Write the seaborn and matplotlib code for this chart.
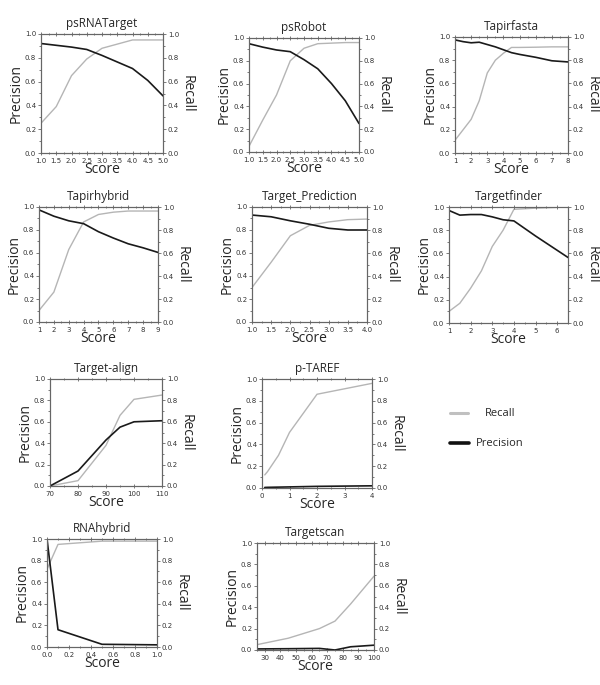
import numpy as np
import pandas as pd
import matplotlib
matplotlib.use("Agg")
import matplotlib.pyplot as plt
from matplotlib import font_manager
from matplotlib.lines import Line2D
from matplotlib.ticker import MultipleLocator, AutoMinorLocator
import seaborn as sns

sns.set_style("ticks")
plt.rcParams['font.family'] = ['Open Sans', 'DejaVu Sans']

# ---- data ----
titles = ["psRNATarget", "psRobot", "Tapirfasta",
          "Tapirhybrid", "Target_Prediction", "Targetfinder",
          "Target-align", "p-TAREF", "RNAhybrid", "Targetscan"]

psrnatarget_x = [1.0, 1.5, 2.0, 2.5, 3.0, 3.5, 4.0, 4.5, 5.0]
psrnatarget_prec = [0.92, 0.905, 0.89, 0.87, 0.82, 0.765, 0.71, 0.61, 0.48]
psrnatarget_rec = [0.25, 0.39, 0.65, 0.79, 0.88, 0.915, 0.95, 0.95, 0.95]

psrobot_x = [1.0, 1.5, 2.0, 2.5, 3.0, 3.5, 4.0, 4.5, 5.0]
psrobot_prec = [0.95, 0.92, 0.895, 0.88, 0.81, 0.73, 0.60, 0.45, 0.25]
psrobot_rec = [0.05, 0.28, 0.50, 0.80, 0.91, 0.95, 0.955, 0.96, 0.96]

tapirfasta_x = [1, 1.5, 2, 2.5, 3, 3.5, 4, 4.5, 5, 6, 7, 8]
tapirfasta_prec = [0.975, 0.96, 0.95, 0.955, 0.935, 0.915, 0.89, 0.865, 0.85, 0.825, 0.795, 0.785]
tapirfasta_rec = [0.11, 0.20, 0.29, 0.45, 0.69, 0.80, 0.86, 0.91, 0.91, 0.912, 0.915, 0.915]

tapirhybrid_x = [1, 2, 3, 4, 5, 6, 7, 8, 9]
tapirhybrid_prec = [0.975, 0.92, 0.88, 0.855, 0.785, 0.73, 0.68, 0.645, 0.605]
tapirhybrid_rec = [0.10, 0.26, 0.63, 0.87, 0.935, 0.955, 0.965, 0.965, 0.965]

targetpred_x = [1.0, 1.5, 2.0, 2.5, 3.0, 3.5, 4.0]
targetpred_prec = [0.93, 0.915, 0.88, 0.85, 0.815, 0.80, 0.80]
targetpred_rec = [0.30, 0.52, 0.75, 0.84, 0.87, 0.89, 0.895]

targetfinder_x = [1, 1.5, 2, 2.5, 3, 3.5, 4, 5, 6.5]
targetfinder_prec = [0.97, 0.93, 0.935, 0.935, 0.915, 0.89, 0.88, 0.75, 0.565]
targetfinder_rec = [0.10, 0.17, 0.30, 0.45, 0.66, 0.80, 0.98, 0.99, 1.0]

targetalign_x = [70, 80, 90, 95, 100, 110]
targetalign_prec = [0.0, 0.14, 0.43, 0.55, 0.60, 0.61]
targetalign_rec = [0.0, 0.05, 0.38, 0.66, 0.81, 0.85]

ptaref_x = [0.1, 0.2, 0.6, 1.0, 2.0, 4.0]
ptaref_prec = [0.005, 0.006, 0.008, 0.01, 0.015, 0.02]
ptaref_rec = [0.12, 0.15, 0.30, 0.51, 0.86, 0.96]

rnahybrid_x = [0.0, 0.1, 0.5, 1.0]
rnahybrid_prec = [1.0, 0.16, 0.025, 0.02]
rnahybrid_rec = [0.72, 0.95, 0.98, 0.98]

targetscan_x = [25, 45, 65, 75, 85, 100]
targetscan_prec = [0.01, 0.012, 0.015, 0.0, 0.03, 0.045]
targetscan_rec = [0.05, 0.11, 0.20, 0.27, 0.43, 0.69]

xs = [psrnatarget_x, psrobot_x, tapirfasta_x, tapirhybrid_x, targetpred_x,
      targetfinder_x, targetalign_x, ptaref_x, rnahybrid_x, targetscan_x]
precs = [psrnatarget_prec, psrobot_prec, tapirfasta_prec, tapirhybrid_prec, targetpred_prec,
         targetfinder_prec, targetalign_prec, ptaref_prec, rnahybrid_prec, targetscan_prec]
recs = [psrnatarget_rec, psrobot_rec, tapirfasta_rec, tapirhybrid_rec, targetpred_rec,
        targetfinder_rec, targetalign_rec, ptaref_rec, rnahybrid_rec, targetscan_rec]

xlims = [(1, 5), (1, 5), (1, 8), (1, 9), (1, 4), (1, 6.5), (70, 110), (0, 4), (0, 1), (25, 100)]
xsteps = [0.5, 0.5, 1, 1, 0.5, 1, 10, 1, 0.2, 10]
xfmt = ["%.1f", "%.1f", "%d", "%d", "%.1f", "%d", "%d", "%d", "%.1f", "%d"]

# panel boxes in pixels: left, top, right, bottom
boxes = [(41, 34, 163, 153), (249, 38, 359, 152), (455, 37, 568, 153),
         (39, 207, 158, 322), (252, 207, 367, 322), (449, 207, 568, 323),
         (50, 379, 162, 486), (262, 379, 372, 488),
         (47, 539, 157, 647), (257, 543, 374, 650)]

# pick a condensed face for the small tick numbers if one is there
tick_font = 'DejaVu Sans'
for cand in ['Liberation Sans Narrow', 'DejaVu Sans Condensed']:
    try:
        font_manager.findfont(cand, fallback_to_default=False)
        tick_font = cand
        break
    except ValueError:
        pass

W, H = 600, 685
fig = plt.figure(figsize=(W / 100, H / 100), dpi=100)

rec_color = "#b5b5b5"
prec_color = "#1a1a1a"
spine_color = "#666666"

for i, title in enumerate(titles):
    l, t, r, b = boxes[i]
    ax = fig.add_axes([l / W, 1 - b / H, (r - l) / W, (b - t) / H])
    df = pd.DataFrame({"Score": xs[i], "Precision": precs[i], "Recall": recs[i]})
    ax2 = ax.twinx()
    sns.lineplot(data=df, x="Score", y="Recall", ax=ax2, color=rec_color, lw=1.0)
    sns.lineplot(data=df, x="Score", y="Precision", ax=ax, color=prec_color, lw=1.2)
    ax.set_zorder(ax2.get_zorder() + 1)
    ax.patch.set_visible(False)

    for a in (ax, ax2):
        a.set_ylim(0, 1)
        a.set_xlim(*xlims[i])
        a.yaxis.set_major_locator(MultipleLocator(0.2))
        a.yaxis.set_minor_locator(MultipleLocator(0.1))
        for s in a.spines.values():
            s.set_visible(True)
            s.set_color(spine_color)
            s.set_linewidth(0.8)
        a.tick_params(which='both', colors=spine_color, labelcolor="#333333",
                      labelsize=5, width=0.6, direction='out', pad=1)
        a.tick_params(which='major', length=2.5)
        a.tick_params(which='minor', length=1.5)
    ax.xaxis.set_major_locator(MultipleLocator(xsteps[i]))
    ax.xaxis.set_minor_locator(AutoMinorLocator(2))
    ax.xaxis.set_major_formatter(plt.FormatStrFormatter(xfmt[i]))
    ax.tick_params(axis='x', which='both', top=True, direction='inout', pad=2)
    ax.yaxis.set_major_formatter(plt.FormatStrFormatter("%.1f"))
    ax2.yaxis.set_major_formatter(plt.FormatStrFormatter("%.1f"))
    for a in (ax, ax2):
        for lab in a.get_xticklabels() + a.get_yticklabels():
            lab.set_family(tick_font)

    ax.set_title(title, fontsize=8.5, pad=5)
    ax.set_xlabel("Score", fontsize=10, labelpad=-1)
    ax.set_ylabel("Precision", fontsize=10, labelpad=1)
    ax2.set_ylabel("Recall", fontsize=10, rotation=270, labelpad=11)

# legend
lax = fig.add_axes([0.0, 0.0, 1.0, 1.0])
lax.set_xlim(0, W)
lax.set_ylim(H, 0)
lax.axis("off")
lax.add_line(Line2D([450, 468], [413, 413], color="#c0c0c0", lw=2.2))
lax.add_line(Line2D([450, 469], [443, 443], color="#111111", lw=2.6))
lax.text(500, 413, "Recall", ha="center", va="center", fontsize=8)
lax.text(500, 443, "Precision", ha="center", va="center", fontsize=8)

fig.savefig("out.png", dpi=100)
